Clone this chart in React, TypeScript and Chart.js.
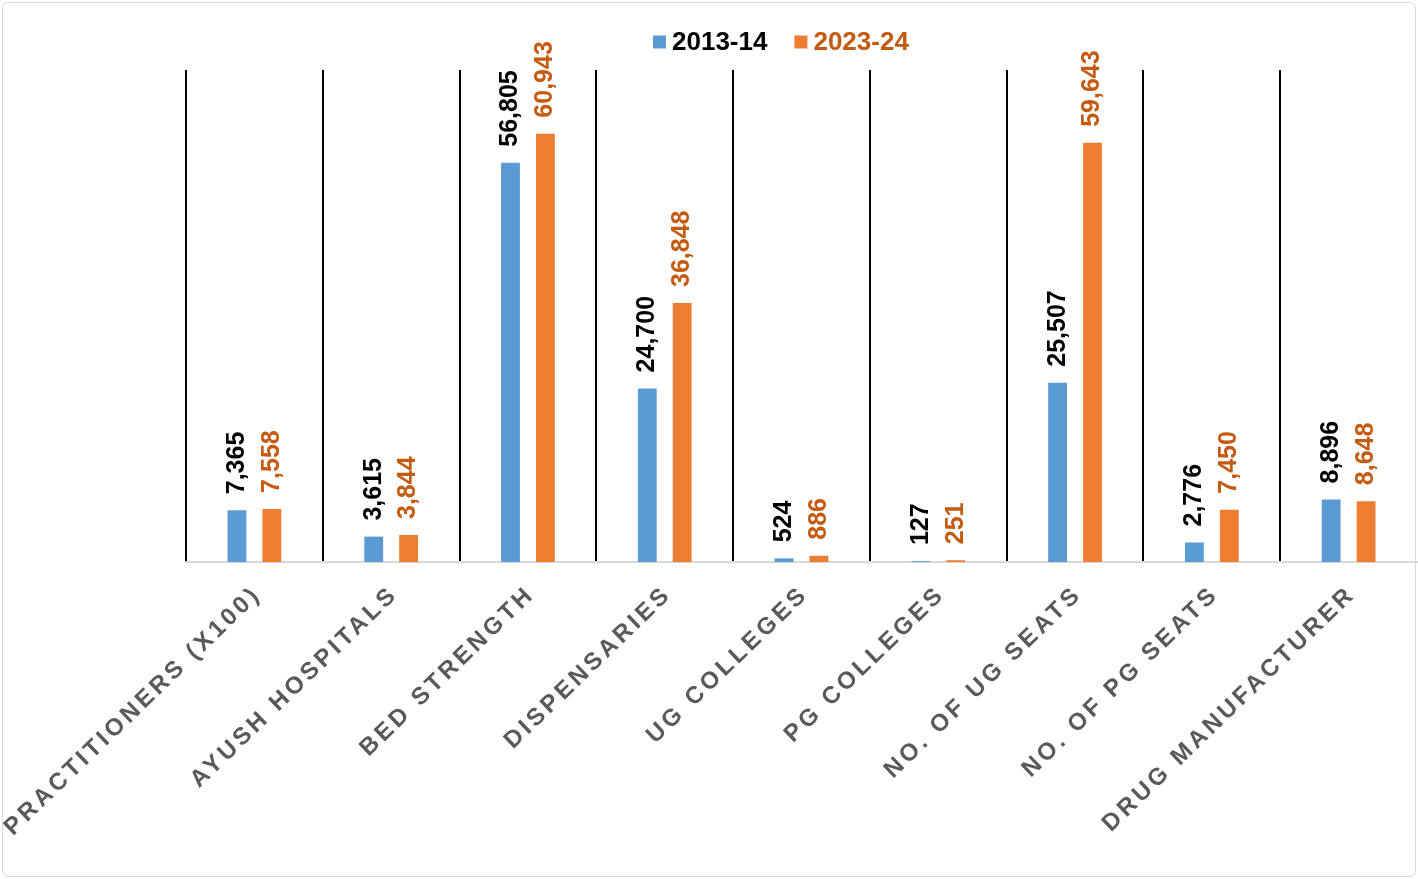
import React, { useEffect, useRef } from "react";
import { Chart, registerables } from "chart.js";

Chart.register(...registerables);

const categories = [
  "PRACTITIONERS (X100)",
  "AYUSH HOSPITALS",
  "BED STRENGTH",
  "DISPENSARIES",
  "UG COLLEGES",
  "PG COLLEGES",
  "NO. OF UG SEATS",
  "NO. OF PG SEATS",
  "DRUG MANUFACTURER",
];
const seriesNames = ["2013-14", "2023-24"];
const values2013 = [7365, 3615, 56805, 24700, 524, 127, 25507, 2776, 8896];
const values2023 = [7558, 3844, 60943, 36848, 886, 251, 59643, 7450, 8648];
const yMin = 0;
const yMax = 70000;

const BLUE = "#5B9BD5";
const ORANGE = "#ED7D31";
const ORANGE_TEXT = "#C55A11";
const FONT = "'Liberation Sans', Arial, sans-serif";

export default function App() {
  const ref = useRef<HTMLCanvasElement>(null);

  useEffect(() => {
    document.body.style.margin = "0";
    const canvas = ref.current!;

    const valueLabels = {
      id: "valueLabels",
      afterDatasetsDraw(chart: any) {
        const c = chart.ctx as CanvasRenderingContext2D;
        chart.data.datasets.forEach((ds: any, di: number) => {
          const meta = chart.getDatasetMeta(di);
          meta.data.forEach((el: any, i: number) => {
            const v = ds.data[i] as number;
            c.save();
            c.translate(el.x, el.y - 16);
            c.rotate(-Math.PI / 2);
            c.font = `bold 25px ${FONT}`;
            c.fillStyle = di === 0 ? "#000000" : ORANGE_TEXT;
            c.textAlign = "left";
            c.textBaseline = "middle";
            c.fillText(v.toLocaleString("en-US"), 0, 0);
            c.restore();
          });
        });
      },
    };

    const xLabels = {
      id: "xLabels",
      afterDraw(chart: any) {
        const c = chart.ctx as CanvasRenderingContext2D;
        const xs = chart.scales.x;
        const ls = 3.6;
        c.save();
        c.font = `bold 24px ${FONT}`;
        c.fillStyle = "#595959";
        (c as any).letterSpacing = `${ls}px`;
        (chart.data.labels as string[]).forEach((lab, i) => {
          const x = xs.getPixelForTick(i);
          c.save();
          c.translate(x - 5, chart.chartArea.bottom + 20);
          c.rotate((-44 * Math.PI) / 180);
          c.textAlign = "right";
          c.textBaseline = "top";
          c.fillText(lab, 0, 0);
          c.restore();
        });
        c.restore();
      },
    };

    const legendPlugin = {
      id: "customLegend",
      afterDraw(chart: any) {
        const c = chart.ctx as CanvasRenderingContext2D;
        c.save();
        c.font = `bold 26px ${FONT}`;
        c.textBaseline = "middle";
        c.textAlign = "left";
        const y = 42;
        let x = 653;
        const colors = [BLUE, ORANGE];
        const textColors = ["#000000", ORANGE_TEXT];
        seriesNames.forEach((name, i) => {
          c.fillStyle = colors[i];
          c.fillRect(x, y - 6.5, 13, 13);
          x += 19;
          c.fillStyle = textColors[i];
          c.fillText(name, x, y + 1);
          x += c.measureText(name).width + 27;
        });
        c.restore();
      },
    };

    const chart = new Chart(canvas, {
      type: "bar",
      data: {
        labels: categories,
        datasets: [
          {
            label: seriesNames[0],
            data: values2013,
            backgroundColor: BLUE,
            categoryPercentage: 0.51,
            barPercentage: 0.54,
          },
          {
            label: seriesNames[1],
            data: values2023,
            backgroundColor: ORANGE,
            categoryPercentage: 0.51,
            barPercentage: 0.54,
          },
        ],
      },
      options: {
        responsive: false,
        animation: false,
        devicePixelRatio: 1,
        layout: { padding: { left: 186, right: 1, top: 70, bottom: 317 } },
        plugins: {
          legend: { display: false },
          tooltip: { enabled: false },
        },
        scales: {
          x: {
            grid: {
              offset: true,
              color: (ctx: any) => (ctx.tick ? "#000000" : "rgba(0,0,0,0)"),
              lineWidth: 2,
              drawTicks: false,
            },
            border: { display: true, color: "#D9D9D9", width: 2 },
            ticks: { display: false },
          },
          y: { display: false, min: yMin, max: yMax },
        },
      },
      plugins: [valueLabels, xLabels, legendPlugin],
    });

    return () => chart.destroy();
  }, []);

  return (
    <div style={{ position: "relative", width: 1418, height: 879, background: "#fff" }}>
      <canvas ref={ref} width={1418} height={879} style={{ display: "block" }} />
      <div
        style={{
          position: "absolute",
          left: 2,
          top: 2,
          right: 2,
          bottom: 2,
          border: "1.5px solid #D9D9D9",
          borderRadius: 6,
          pointerEvents: "none",
        }}
      />
    </div>
  );
}
